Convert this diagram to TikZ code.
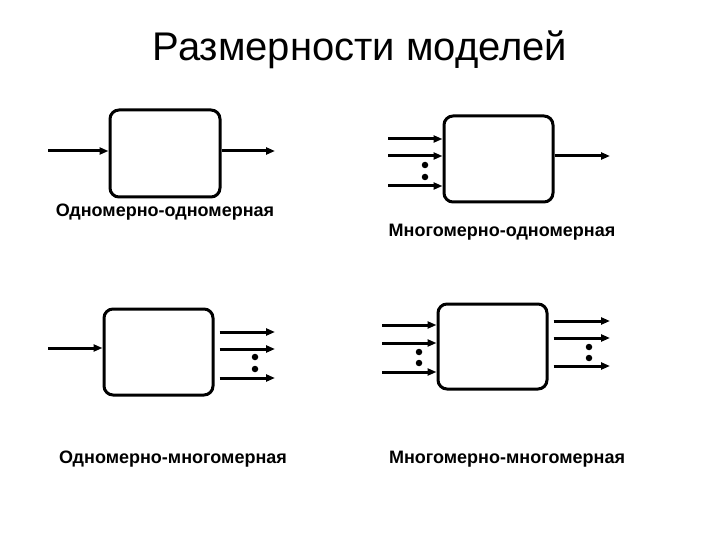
\documentclass[tikz,border=0pt]{standalone}
\usepackage{fontspec}
\setmainfont{Liberation Sans}
\usetikzlibrary{arrows.meta}
\begin{document}
\begin{tikzpicture}[x=1pt,y=-1pt,
  blk/.style={draw,line width=3pt,rounded corners=9pt,inner sep=0pt,minimum width=#1},
  sig/.style={line width=3pt,-{Triangle[length=9pt,width=7pt]}},
  dotm/.style={circle,fill,inner sep=0pt,minimum size=6.5pt},
  lbl/.style={font=\fontsize{18}{20}\selectfont\bfseries}]
\useasboundingbox (0,0) rectangle (720,540);
\fill[white] (0,0) rectangle (720,540);
\node[font=\fontsize{40}{44}\selectfont] (title) at (360,50) {Размерности моделей};

% box 1
\node[blk=110pt,minimum height=87pt] (b1) at (165,153.5) {};
\coordinate (i1) at (48,151);
\coordinate (o1) at (275,151);
\draw[sig] (i1) -- (i1 -| b1.west);
\draw[sig] (o1 -| b1.east) -- (o1);
\node[lbl] (l1) at (165,212) {Одномерно-одномерная};

% box 2
\node[blk=109pt,minimum height=86pt] (b2) at (498.5,159) {};
\coordinate (i2a) at (388,139);
\coordinate (i2b) at (388,156);
\coordinate (i2c) at (388,186);
\coordinate (o2) at (610,156);
\draw[sig] (i2a) -- (i2a -| b2.west);
\draw[sig] (i2b) -- (i2b -| b2.west);
\draw[sig] (i2c) -- (i2c -| b2.west);
\node[dotm] (d2a) at (425,165) {};
\node[dotm] (d2b) at (425,177) {};
\draw[sig] (o2 -| b2.east) -- (o2);
\node[lbl] (l2) at (502,232) {Многомерно-одномерная};

% box 3
\node[blk=109pt,minimum height=86pt] (b3) at (158.5,352) {};
\coordinate (i3) at (48,348);
\coordinate (o3a) at (275,332);
\coordinate (o3b) at (275,349);
\coordinate (o3c) at (275,378);
\draw[sig] (i3) -- (i3 -| b3.west);
\draw[sig] ([xshift=5pt]o3a -| b3.east) -- (o3a);
\draw[sig] ([xshift=5pt]o3b -| b3.east) -- (o3b);
\draw[sig] ([xshift=5pt]o3c -| b3.east) -- (o3c);
\node[dotm] (d3a) at (255,357) {};
\node[dotm] (d3b) at (255,369) {};
\node[lbl] (l3) at (173,459) {Одномерно-многомерная};

% box 4
\node[blk=109pt,minimum height=85pt] (b4) at (492.5,346.5) {};
\coordinate (i4a) at (382,325);
\coordinate (i4b) at (382,343);
\coordinate (i4c) at (382,372);
\coordinate (o4a) at (610,321);
\coordinate (o4b) at (610,338);
\coordinate (o4c) at (610,366);
\draw[sig] (i4a) -- (i4a -| b4.west);
\draw[sig] (i4b) -- (i4b -| b4.west);
\draw[sig] (i4c) -- (i4c -| b4.west);
\node[dotm] (d4a) at (419,352) {};
\node[dotm] (d4b) at (419,363) {};
\draw[sig] ([xshift=5pt]o4a -| b4.east) -- (o4a);
\draw[sig] ([xshift=5pt]o4b -| b4.east) -- (o4b);
\draw[sig] ([xshift=5pt]o4c -| b4.east) -- (o4c);
\node[dotm] (d4c) at (589,347) {};
\node[dotm] (d4d) at (589,358) {};
\node[lbl] (l4) at (507,459) {Многомерно-многомерная};
\end{tikzpicture}
\end{document}
